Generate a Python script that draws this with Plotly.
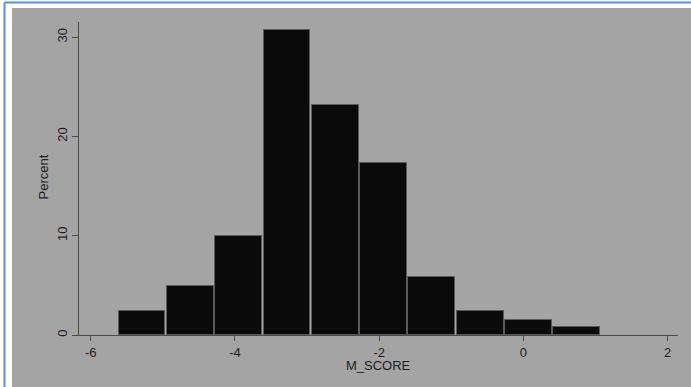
import plotly.graph_objects as go

# Data
bin_left_edges = [-5.625, -4.955, -4.285, -3.615, -2.945, -2.275, -1.605, -0.935, -0.265, 0.405]
bin_width = 0.6705
percent = [2.4, 4.9, 10.0, 30.7, 23.2, 17.3, 5.8, 2.4, 1.5, 0.8]
x_tick_vals = [-6, -4, -2, 0, 2]
x_tick_text = ["-6", "-4", "-2", "0", "2"]
y_tick_vals = [0, 10, 20, 30]
y_tick_text = ["0", "10", "20", "30"]
x_title = "M_SCORE"
y_title = "Percent"

centers = [e + bin_width / 2 for e in bin_left_edges]

W, H = 691, 387
L, R, T, B = 79, 13, 22, 52
PW, PH = W - L - R, H - T - B

def px(xpix):
    return (xpix - L) / PW

def py(ypix):
    return (H - B - ypix) / PH

fig = go.Figure()
fig.add_trace(go.Bar(
    x=centers, y=percent, width=bin_width - 0.022,
    marker=dict(color="#0a0a0a", line=dict(color="#5a5a5a", width=1)),
    hoverinfo="skip",
))

font = "Liberation Sans, Arial, sans-serif"
axis_col = "#4a4a4a"

shapes = [
    dict(type="rect", xref="paper", yref="paper", x0=px(-5), x1=px(W + 5), y0=py(8), y1=py(-5),
         fillcolor="white", line=dict(width=0), layer="below"),
    dict(type="rect", xref="paper", yref="paper", x0=px(-5), x1=px(12), y0=py(H + 5), y1=py(-5),
         fillcolor="white", line=dict(width=0), layer="below"),
    dict(type="line", xref="paper", yref="paper", x0=px(4.5), x1=px(4.5), y0=py(2.5), y1=py(H + 5),
         line=dict(color="#5b8be8", width=2), layer="below"),
    dict(type="line", xref="paper", yref="paper", x0=px(4.5), x1=px(W + 5), y0=py(2.5), y1=py(2.5),
         line=dict(color="#5b8be8", width=2), layer="below"),
]

annotations = [
    dict(text=x_title, xref="paper", yref="paper", x=px(378.5), y=py(365), showarrow=False,
         xanchor="center", yanchor="middle", font=dict(family=font, size=13, color="#1e1e1e")),
    dict(text=y_title, xref="paper", yref="paper", x=px(42.5), y=py(177), showarrow=False,
         xanchor="center", yanchor="middle", textangle=-90,
         font=dict(family=font, size=13, color="#1e1e1e")),
]

fig.update_layout(
    width=W, height=H,
    margin=dict(l=L, r=R, t=T, b=B, pad=0),
    paper_bgcolor="#a4a4a4", plot_bgcolor="#a4a4a4",
    showlegend=False, bargap=0,
    shapes=shapes, annotations=annotations,
    xaxis=dict(range=[-6.162, 2.143], tickmode="array", tickvals=x_tick_vals, ticktext=x_tick_text,
               automargin=False,
               showgrid=False, zeroline=False, showline=True, linecolor=axis_col, linewidth=1,
               ticks="outside", ticklen=5, tickcolor=axis_col, tickwidth=1,
               tickfont=dict(family=font, size=13, color="#1e1e1e")),
    yaxis=dict(range=[0, 31.54], tickmode="array", tickvals=y_tick_vals, ticktext=y_tick_text,
               automargin=False,
               showgrid=False, zeroline=False, showline=True, linecolor=axis_col, linewidth=1,
               ticks="outside", ticklen=6, tickcolor=axis_col, tickwidth=1, tickangle=-90,
               tickfont=dict(family=font, size=13, color="#1e1e1e")),
)

css = ("html,body{margin:0!important;padding:0!important;overflow:hidden!important;"
       "background:#a4a4a4;scrollbar-width:none;}::-webkit-scrollbar{display:none;width:0;height:0;}")
fig.write_html("out.html",
               config={"displayModeBar": False},
               post_script="var s=document.createElement('style');s.textContent=" + repr(css) + ";"
                           "document.head.appendChild(s);"
                           "var d=document.documentElement,b=document.body;"
                           "b.style.margin='0';b.style.padding='0';"
                           "d.style.overflow='hidden';b.style.overflow='hidden';")
